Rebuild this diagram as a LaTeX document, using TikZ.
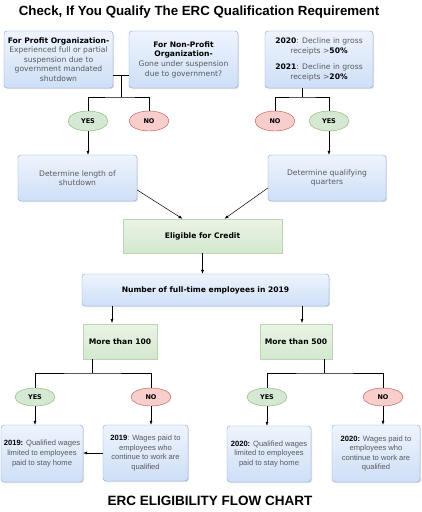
\documentclass[tikz,border=0pt]{standalone}
\usepackage{fontspec}
\setmainfont{DejaVu Sans}
\newfontfamily\arialfont{Liberation Sans}
\usetikzlibrary{shapes.geometric,arrows.meta,shadows}
\definecolor{boxtop}{RGB}{238,244,253}
\definecolor{boxbot}{RGB}{206,223,247}
\definecolor{boxline}{RGB}{130,162,212}
\definecolor{grtop}{RGB}{234,244,230}
\definecolor{grbot}{RGB}{211,232,206}
\definecolor{grline}{RGB}{186,214,176}
\definecolor{yesfill}{RGB}{213,232,212}
\definecolor{yesline}{RGB}{130,179,102}
\definecolor{nofill}{RGB}{248,206,204}
\definecolor{noline}{RGB}{184,84,80}
\definecolor{txtgray}{RGB}{90,90,90}
\tikzset{
        % blue rounded boxes with light gradient
        bluebox/.style={draw=boxline, top color=boxtop, bottom color=boxbot,
            rounded corners=3pt, align=center, text=txtgray, inner sep=2pt,
            font=\fontsize{7.6}{9.6}\selectfont,
            drop shadow={opacity=0.25, shadow xshift=1pt, shadow yshift=-1pt}},
        % bottom boxes use the arial-like face
        wagebox/.style={bluebox, font=\arialfont\fontsize{7.6}{9.6}\selectfont},
        greenbox/.style={draw=grline, top color=grtop, bottom color=grbot,
            align=center, font=\fontsize{7.6}{9.6}\selectfont\bfseries,
            drop shadow={opacity=0.2, shadow xshift=1pt, shadow yshift=-1pt}},
        yesnode/.style={ellipse, draw=yesline, fill=yesfill, minimum width=40pt,
            minimum height=20pt, inner sep=0pt, font=\fontsize{6.5}{8}\selectfont\bfseries},
        nonode/.style={yesnode, draw=noline, fill=nofill},
        link/.style={line width=0.8pt},
        arr/.style={-{Latex[length=4pt,width=3pt]}, line width=0.5pt}
    }
\newcommand{\hd}[1]{\textcolor{black}{\bfseries #1}}
\begin{document}
\begin{tikzpicture}[x=1pt,y=-1pt]
\useasboundingbox (0,0) rectangle (421,512);

%Title
\node (title) at (199,12) {\arialfont\fontsize{13.3}{15}\selectfont\bfseries Check, If You Qualify The ERC Qualification Requirement};

%Top boxes
\node [bluebox, minimum width=109pt, minimum height=57pt] (profit) at (58.5,59.5)
    {\hd{For Profit Organization-}\\Experienced full or partial\\suspension due to\\government mandated\\shutdown};
\node [bluebox, minimum width=109pt, minimum height=57pt] (nonprofit) at (183.5,59.5)
    {\hd{For Non-Profit}\\\hd{Organization-}\\Gone under suspension\\due to government?};
\node [bluebox, minimum width=108pt, minimum height=57pt] (decline) at (319,59.5)
    {\hd{2020}: Decline in gross\\receipts >\hd{50\%}\\[7pt]
     \hd{2021}: Decline in gross\\receipts >\hd{20\%}};

%Yes / No
\node [yesnode] (yes1) at (88,121) {YES};
\node [nonode] (no1) at (149,121) {NO};
\node [nonode] (no2) at (275,121) {NO};
\node [yesnode] (yes2) at (329,121) {YES};

%Determine boxes
\node [bluebox, minimum width=119pt, minimum height=46pt] (shutdown) at (77.5,178)
    {Determine length of\\shutdown};
\node [bluebox, minimum width=118pt, minimum height=46pt] (quarters) at (327,178)
    {Determine qualifying\\quarters};

\node [greenbox, minimum width=159pt, minimum height=34pt] (eligible) at (202.5,236) {Eligible for Credit};

\node [bluebox, minimum width=247pt, minimum height=32pt, font=\fontsize{7.6}{9.6}\selectfont\bfseries, text=black] (employees) at (205.5,290)
    {Number of full-time employees in 2019};

\node [greenbox, minimum width=74pt, minimum height=35pt] (more100) at (120,341.5) {More than 100};
\node [greenbox, minimum width=72pt, minimum height=35pt] (more500) at (296,341.5) {More than 500};

\node [yesnode, minimum height=18pt] (yes3) at (35,397) {YES};
\node [nonode, minimum height=18pt] (no3) at (151,397) {NO};
\node [yesnode, minimum height=18pt] (yes4) at (267,397) {YES};
\node [nonode, minimum height=18pt] (no4) at (383,397) {NO};

%Bottom boxes
\node [wagebox, minimum width=82pt, minimum height=57pt] (stayA) at (42,453.5)
    {\hd{2019:} Qualified wages\\limited to employees\\paid to stay home};
\node [wagebox, minimum width=85pt, minimum height=56pt] (workB) at (145.5,453)
    {\hd{2019}: Wages paid to\\employees who\\continue to work are\\qualified};
\node [wagebox, minimum width=84pt, minimum height=56pt] (stayC) at (269,454)
    {\hd{2020:} Qualified wages\\limited to employees\\paid to stay home};
\node [wagebox, minimum width=88pt, minimum height=57pt] (workD) at (376,453.5)
    {\hd{2020:} Wages paid to\\employees who\\continue to work are\\qualified};

%Footer
\node (footer) at (210,501) {\arialfont\fontsize{13.5}{15}\selectfont\bfseries ERC ELIGIBILITY FLOW CHART};

%Connectors
\coordinate (j1) at (121,75);
\coordinate (j2) at (121,97);
\coordinate (j3) at (302,97);
\coordinate (j5) at (92,373);
\coordinate (j6) at (324,373);
\coordinate (d100) at (112,323);
\coordinate (d500) at (302,323);

\draw [link] (profit.east |- j1) -- (nonprofit.west |- j1);
\draw [link] (j1) -- (j2);
\draw [link] (yes1.north) |- (j2) -| (no1.north);
\draw [link] (decline.south -| j3) -- (j3);
\draw [link] (no2.north) |- (j3) -| (yes2.north);

\draw [arr] (yes1.south) -- (yes1.south |- shutdown.north);
\draw [arr] (yes2.south) -- (yes2.south |- quarters.north);
\draw [arr] ([yshift=-12pt]shutdown.east) -- ([xshift=-20pt]eligible.north);
\draw [arr] ([yshift=-10pt]quarters.west) -- ([xshift=22pt]eligible.north);
\draw [arr] (eligible.south) -- (eligible.south |- employees.north);
\draw [arr] (d100 |- employees.south) -- (d100);
\draw [arr] (d500 |- employees.south) -- (d500);

\draw [link] (more100.south -| j5) -- (j5);
\draw [link] (yes3.north) |- (j5) -| (no3.north);
\draw [link] (more500.south -| j6) -- (j6);
\draw [link] (yes4.north) |- (j6) -| (no4.north);

\draw [arr] (yes3.south) -- (yes3.south |- stayA.north);
\draw [arr] (no3.south) -- (no3.south |- workB.north);
\draw [arr] (yes4.south) -- (yes4.south |- stayC.north);
\draw [arr] (no4.south) -- (no4.south |- workD.north);
\draw [arr] (workB.west) -- (workB.west -| stayA.east);

\end{tikzpicture}
\end{document}
